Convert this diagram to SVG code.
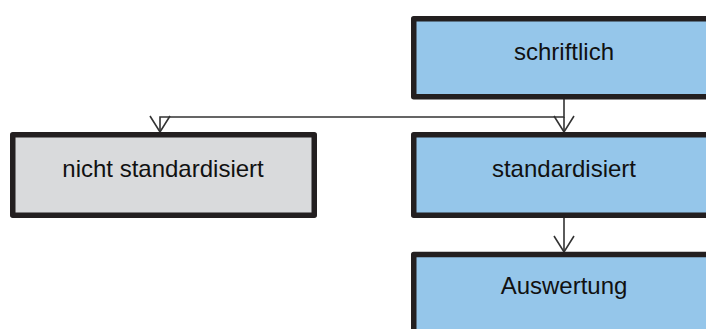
<svg xmlns="http://www.w3.org/2000/svg" width="706" height="329" viewBox="0 0 706 329">
<defs>
<style>
.box{stroke:#231f20;stroke-width:5.5;stroke-linejoin:round}
.blue{fill:#95c6ea}
.gray{fill:#d9dadc}
.lbl{font-family:"Liberation Sans",Arial,sans-serif;font-size:24px;fill:#111;text-anchor:middle}
.con{fill:none;stroke:#333;stroke-width:1.6}
</style>
<marker id="v" markerUnits="userSpaceOnUse" markerWidth="20" markerHeight="24" viewBox="-18 -12 20 24" refX="0" refY="0" orient="auto">
<path d="M-16,-10 L0,0 L-16,10" fill="none" stroke="#333" stroke-width="1.6"/>
</marker>
</defs>
<rect width="706" height="329" fill="#fff"/>
<g id="connectors">
<path class="con" d="M564,99 V117 H160 V132" marker-end="url(#v)"/>
<path class="con" d="M564,117 V132" marker-end="url(#v)"/>
<path class="con" d="M564,218 V252" marker-end="url(#v)"/>
</g>
<g id="schriftlich">
<rect class="box blue" x="413.75" y="18.75" width="300" height="78"/>
<text class="lbl" x="564" y="59.5">schriftlich</text>
</g>
<g id="nicht-standardisiert">
<rect class="box gray" x="12.75" y="134.75" width="301.5" height="80.5"/>
<text class="lbl" x="163" y="177">nicht standardisiert</text>
</g>
<g id="standardisiert">
<rect class="box blue" x="413.75" y="134.75" width="300" height="80.5"/>
<text class="lbl" x="564" y="177">standardisiert</text>
</g>
<g id="auswertung">
<rect class="box blue" x="413.75" y="254.5" width="300" height="90"/>
<text class="lbl" x="564" y="294">Auswertung</text>
</g>
</svg>
